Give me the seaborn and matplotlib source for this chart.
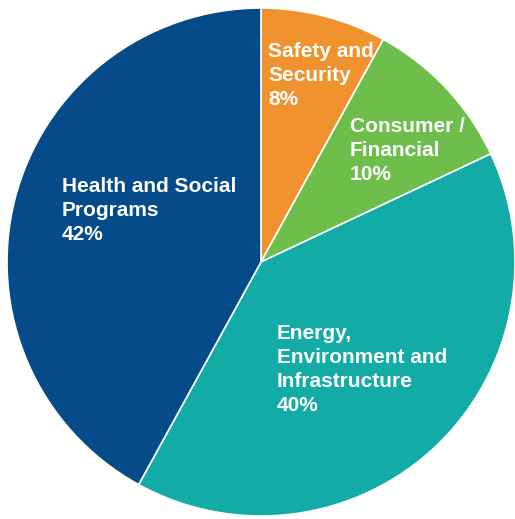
import matplotlib
matplotlib.use("Agg")
import matplotlib.pyplot as plt
import seaborn as sns

# 数据
categories = ["Safety and\nSecurity", "Consumer /\nFinancial",
              "Energy,\nEnvironment and\nInfrastructure", "Health and Social\nPrograms"]
shares = [8, 10, 40, 42]
colors = ["#F0932F", "#6DBE4A", "#12ABA6", "#054B89"]

# 标签位置 (像素, 左上角)
label_pos = [(268, 42), (350, 117), (277, 324), (62, 177)]

sns.set_style("white")
plt.rcParams['font.family'] = ['Liberation Sans', 'DejaVu Sans']

W, H = 515, 519
fig = plt.figure(figsize=(W / 100, H / 100), dpi=100)
ax = fig.add_axes([0, 0, 1, 1])

cx, cy, r = 261, 262, 254  # 圆心和半径 (像素)
ax.pie(shares, colors=colors, startangle=90, counterclock=False, radius=1,
       wedgeprops=dict(edgecolor="white", linewidth=1.2))
ax.set_xlim(-cx / r, (W - cx) / r)
ax.set_ylim(-(H - cy) / r, cy / r)
ax.set_aspect("auto")
ax.axis("off")

for name, val, (px, py) in zip(categories, shares, label_pos):
    ax.text(px / W, 1 - py / H, "{}\n{}%".format(name, val), transform=ax.transAxes,
            ha="left", va="top", color="white", fontsize=15, fontweight="bold",
            linespacing=1.34)

fig.savefig("out.png", dpi=100, facecolor="white")
